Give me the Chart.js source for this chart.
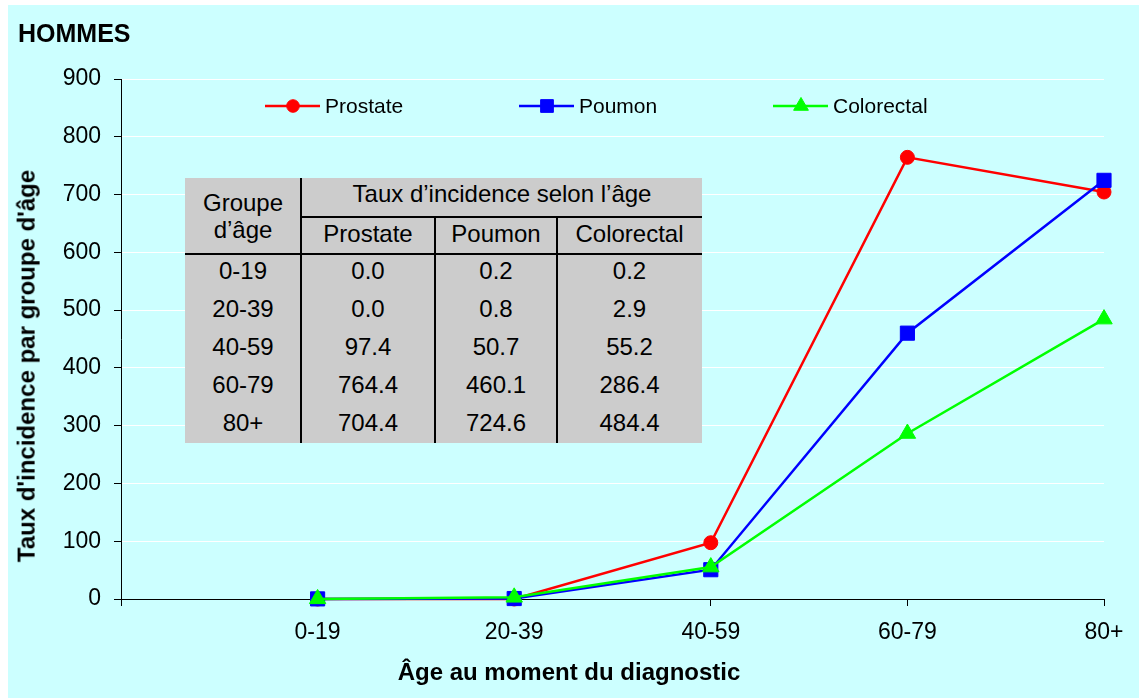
<!DOCTYPE html>
<html><head><meta charset="utf-8">
<script src="https://cdn.jsdelivr.net/npm/chart.js@4.4.1/dist/chart.umd.min.js"></script>
<style>
html,body{margin:0;padding:0;background:#fff;width:1139px;height:698px;overflow:hidden;font-family:"Liberation Sans",Arial,sans-serif;}
#panel{position:absolute;left:8px;top:5px;width:1131px;height:693px;background:#CCFFFF;}
#c{position:absolute;left:0;top:0;}
.t{position:absolute;white-space:nowrap;color:#000;line-height:1.2;}
.ln{position:absolute;background:#000;}
</style></head><body>
<div id="panel"></div>
<canvas id="c" width="1139" height="698"></canvas>
<div id="overlay"></div>
<script>
// ---- data ----
const ageGroups = ['0-19', '20-39', '40-59', '60-79', '80+'];
const seriesNames = ['Prostate', 'Poumon', 'Colorectal'];
const prostate = [0.0, 0.0, 97.4, 764.4, 704.4];
const poumon = [0.2, 0.8, 50.7, 460.1, 724.6];
const colorectal = [0.2, 2.9, 55.2, 286.4, 484.4];
const yMin = 0, yMax = 900, yStep = 100;
const chartTitle = 'HOMMES';
const xTitle = 'Âge au moment du diagnostic';
const yTitle = "Taux d'incidence par groupe d'âge";
const tableHeadGroup = ['Groupe', 'd’âge'];
const tableHeadRate = 'Taux d’incidence selon l’âge';

const FAM = '"Liberation Sans", Arial, sans-serif';
const overlay = document.getElementById('overlay');

function addText(txt, cx, cy, size, bold, rotate, alignLeft) {
  const d = document.createElement('div');
  d.className = 't';
  d.textContent = txt;
  d.style.fontSize = size + 'px';
  d.style.fontWeight = bold ? 'bold' : 'normal';
  d.style.left = cx + 'px';
  d.style.top = cy + 'px';
  let tr = alignLeft ? 'translate(0,-50%)' : 'translate(-50%,-50%)';
  if (rotate) tr += ' rotate(-90deg)';
  d.style.transform = tr;
  overlay.appendChild(d);
}
function addLine(x, y, w, h) {
  const d = document.createElement('div');
  d.className = 'ln';
  d.style.left = x + 'px'; d.style.top = y + 'px';
  d.style.width = w + 'px'; d.style.height = h + 'px';
  overlay.appendChild(d);
}

const seriesData = [prostate, poumon, colorectal];
const colors = ['#FF0000', '#0000FF', '#00FF00'];
const styles = ['circle', 'rect', 'triangle'];
const radii = [7, 10, 9.5];

const datasets = seriesNames.map((name, s) => ({
  label: name,
  data: ageGroups.map((g, i) => ({ x: i + 1, y: seriesData[s][i] })),
  borderColor: colors[s],
  backgroundColor: colors[s],
  pointBackgroundColor: colors[s],
  pointBorderColor: colors[s],
  pointBorderWidth: 1,
  pointStyle: styles[s],
  pointRadius: radii[s],
  borderWidth: 2.5,
  tension: 0,
  clip: false,
  order: 3 - s
}));

const legendPlugin = {
  id: 'customLegend',
  afterDatasetsDraw(chart) {
    const ctx = chart.ctx;
    chart.data.datasets.forEach((ds, i) => {
      const x0 = 265 + 254 * i, y = 106;
      ctx.save();
      ctx.strokeStyle = ds.borderColor;
      ctx.lineWidth = 2.5;
      ctx.beginPath(); ctx.moveTo(x0, y); ctx.lineTo(x0 + 55, y); ctx.stroke();
      ctx.fillStyle = ds.backgroundColor;
      ctx.strokeStyle = ds.borderColor;
      ctx.lineWidth = 1;
      Chart.helpers.drawPoint(ctx, { pointStyle: ds.pointStyle, radius: ds.pointRadius * 0.9, borderWidth: 1, rotation: 0 }, x0 + 28, y);
      ctx.fillStyle = '#000';
      ctx.font = '21px ' + FAM;
      ctx.textBaseline = 'middle';
      ctx.textAlign = 'left';
      ctx.fillText(ds.label, x0 + 60, y + 1);
      ctx.restore();
    });
  }
};

new Chart(document.getElementById('c'), {
  type: 'line',
  data: { datasets },
  options: {
    responsive: false,
    animation: false,
    devicePixelRatio: 1,
    layout: { padding: { top: 79, left: 0, right: 35, bottom: 0 } },
    plugins: { legend: { display: false }, tooltip: { enabled: false }, title: { display: false } },
    scales: {
      x: {
        type: 'linear', min: 0, max: ageGroups.length,
        afterFit(s) { s.height = 99; },
        afterBuildTicks(s) { s.ticks = [0, 1, 2, 3, 4, 5].map(v => ({ value: v })); },
        ticks: {
          stepSize: 1, color: '#000', font: { size: 23, family: FAM }, padding: 13,
          maxRotation: 0, autoSkip: false,
          callback: v => (v >= 1 ? ageGroups[v - 1] : '')
        },
        grid: { drawOnChartArea: false, drawTicks: true, tickLength: 7, tickColor: '#000' },
        border: { color: '#000', width: 1 }
      },
      y: {
        min: yMin, max: yMax,
        afterFit(s) { s.width = 121; },
        ticks: { stepSize: yStep, color: '#000', font: { size: 23, family: FAM }, padding: 13 },
        grid: {
          color: c => (c.tick && c.tick.value === 0 ? 'rgba(0,0,0,0)' : '#FFFFFF'),
          lineWidth: 1, tickColor: '#000', tickLength: 7
        },
        border: { color: '#000', width: 1 }
      }
    }
  },
  plugins: [legendPlugin]
});

// ---- titles ----
addText(chartTitle, 18, 33, 25, true, false, true);
addText(xTitle, 569, 672, 24, true);
addText(yTitle, 27, 366, 24, true, true);

// ---- table ----
const tb = document.createElement('div');
tb.style.cssText = 'position:absolute;left:185px;top:178px;width:517px;height:265px;background:#CCCCCC;';
overlay.appendChild(tb);
addLine(300, 178, 2, 265);
addLine(434, 216, 2, 227);
addLine(556, 216, 2, 227);
addLine(301, 216, 401, 2);
addLine(185, 253, 517, 2);
const colCx = [243, 368, 496, 629.5];
addText(tableHeadGroup[0], colCx[0], 203, 24);
addText(tableHeadGroup[1], colCx[0], 230, 24);
addText(tableHeadRate, 502, 194, 24);
seriesNames.forEach((n, s) => addText(n, colCx[s + 1], 234, 24));
ageGroups.forEach((g, i) => {
  const cy = 270.5 + 38.2 * i;
  addText(g, colCx[0], cy, 24);
  seriesData.forEach((arr, s) => addText(arr[i].toFixed(1), colCx[s + 1], cy, 24));
});
</script>
</body></html>
